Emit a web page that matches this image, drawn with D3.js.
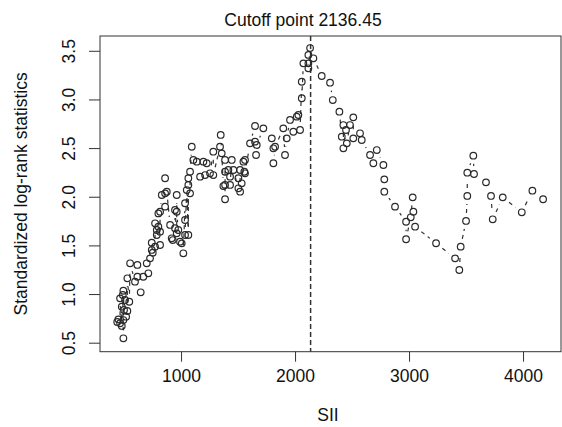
<!DOCTYPE html>
<html><head><meta charset="utf-8">
<script src="https://cdn.jsdelivr.net/npm/d3@7"></script>
<style>
body{margin:0;background:#fff}
svg{display:block}
text{font-family:"Liberation Sans",Arial,Helvetica,sans-serif;fill:#111}
</style>
</head><body>
<svg id="chart" width="562" height="427"></svg>
<script>
// ---- data ----
const sii = [494,440,465,494,480,450,518,529,500,480,465,489,494,546,509,646,529,553,617,596,617,669,713,699,728,752,772,743,816,787,816,918,991,1020,962,1064,801,772,816,860,831,860,962,1064,1079,1035,962,1035,904,947,976,1035,927,1386,1386,1503,1532,1348,1094,1649,1605,1649,1658,1283,1342,1357,1108,1138,1196,1386,1445,1561,1415,1386,1459,1518,1555,1430,1503,1283,1254,1211,1167,1079,1064,1050,860,875,1371,1430,1518,801,947,787,1006,743,1225,2132,2117,2161,2073,2117,2117,2059,2059,2029,2015,1956,2044,1985,1897,1927,1912,1796,1810,1825,1810,1722,1664,1547,1561,2234,2307,2331,2389,2511,2482,2447,2424,2410,2454,2424,2511,2570,2585,2658,2717,2687,2775,2783,2783,2877,3032,3038,3015,2974,3053,2974,3237,3404,3441,3453,3500,3511,3511,3570,3564,3675,3719,3734,3822,3989,4082,4176];
const stat = [0.545,0.713,0.70,0.733,0.672,0.74,0.767,0.826,0.836,0.87,0.956,0.99,1.034,0.921,0.939,1.018,1.162,1.316,1.299,1.127,1.178,1.178,1.213,1.316,1.367,1.425,1.487,1.528,1.504,1.607,1.641,1.573,1.538,1.419,1.624,1.607,1.692,1.727,1.846,1.898,2.018,2.035,2.018,2.121,2.035,1.933,1.846,1.761,1.71,1.676,1.658,1.607,1.555,2.121,1.974,2.087,2.138,2.635,2.514,2.727,2.549,2.566,2.429,2.463,2.514,2.446,2.378,2.36,2.36,2.378,2.378,2.378,2.275,2.257,2.275,2.275,2.257,2.206,2.19,2.223,2.241,2.223,2.206,2.257,2.19,2.069,2.19,2.052,2.11,2.121,2.052,1.829,1.864,1.658,1.521,1.453,2.344,3.528,3.457,3.423,3.371,3.371,3.32,3.182,3.012,2.84,2.823,2.789,2.686,2.668,2.703,2.6,2.429,2.6,2.498,2.514,2.344,2.703,2.532,2.36,2.241,3.241,3.172,2.994,2.874,2.816,2.737,2.686,2.737,2.617,2.549,2.498,2.6,2.652,2.583,2.429,2.48,2.344,2.326,2.179,2.052,1.898,1.994,1.846,1.789,1.743,1.692,1.563,1.522,1.367,1.247,1.487,1.751,2.008,2.247,2.234,2.422,2.148,2.008,1.768,1.994,1.84,2.062,1.974];
const xTicks = [1000, 2000, 3000, 4000];
const yTicks = [0.5, 1.0, 1.5, 2.0, 2.5, 3.0, 3.5];
const yTickLabels = ["0.5","1.0","1.5","2.0","2.5","3.0","3.5"];
const cutoff = 2136.45;
const titleText = "Cutoff point 2136.45";
const xLabelText = "SII";
const yLabelText = "Standardized log-rank statistics";

// ---- layout ----
const L = 100, R = 561, T = 36, B = 351.7;
const FS = 17.5;
const svg = d3.select("#chart");

const x = d3.scaleLinear().domain([289, 4333]).range([L, R]);
const y = d3.scaleLinear().domain([0.4075, 3.652]).range([B, T]);

const pts = sii.map((v, i) => ({sx: v, sy: stat[i]})).sort((a, b) => a.sx - b.sx);

// connecting dashed line (type="b": gaps around points)
const gap = 8;
const gLine = svg.append("g");
for (let i = 0; i < pts.length - 1; i++) {
  const x1 = x(pts[i].sx), y1 = y(pts[i].sy), x2 = x(pts[i+1].sx), y2 = y(pts[i+1].sy);
  const d = Math.hypot(x2 - x1, y2 - y1);
  if (d > 2 * gap) {
    const ux = (x2 - x1) / d, uy = (y2 - y1) / d;
    gLine.append("line")
      .attr("x1", x1 + ux * gap).attr("y1", y1 + uy * gap)
      .attr("x2", x2 - ux * gap).attr("y2", y2 - uy * gap)
      .attr("stroke", "#333").attr("stroke-width", 1.2)
      .attr("stroke-dasharray", "4,4");
  }
}

// cutoff vertical line
svg.append("line")
  .attr("x1", x(cutoff)).attr("x2", x(cutoff))
  .attr("y1", T).attr("y2", B)
  .attr("stroke", "#333").attr("stroke-width", 1.5)
  .attr("stroke-dasharray", "5,3");

// points
svg.append("g").selectAll("circle").data(pts).join("circle")
  .attr("cx", d => x(d.sx)).attr("cy", d => y(d.sy)).attr("r", 3.3)
  .attr("fill", "none").attr("stroke", "#2a2a2a").attr("stroke-width", 1.2);

// box
svg.append("rect").attr("x", L).attr("y", T).attr("width", R - L).attr("height", B - T)
  .attr("fill", "none").attr("stroke", "#333").attr("stroke-width", 1);

// x axis
const gx = svg.append("g").attr("transform", `translate(0,${B})`)
  .call(d3.axisBottom(x).tickValues(xTicks).tickSize(10).tickFormat(d3.format("d")));
gx.select(".domain").remove();
gx.selectAll(".tick line").attr("stroke", "#333");
gx.selectAll(".tick text").attr("y", 30).attr("dy", 0)
  .style("font-size", FS + "px").style("font-family", '"Liberation Sans",Arial,sans-serif').attr("fill", "#111");

// y axis
const gy = svg.append("g").attr("transform", `translate(${L},0)`)
  .call(d3.axisLeft(y).tickValues(yTicks).tickSize(11).tickFormat((d, i) => yTickLabels[i]));
gy.select(".domain").remove();
gy.selectAll(".tick line").attr("stroke", "#333");
gy.selectAll(".tick text")
  .attr("x", 0).attr("y", -25).attr("dy", 0)
  .attr("transform", "rotate(-90)")
  .attr("text-anchor", "middle")
  .style("font-size", FS + "px").style("font-family", '"Liberation Sans",Arial,sans-serif').attr("fill", "#111");

// title & labels
svg.append("text").attr("x", 303).attr("y", 26).attr("text-anchor", "middle")
  .style("font-size", FS + "px").text(titleText);
svg.append("text").attr("x", 328).attr("y", 421).attr("text-anchor", "middle")
  .style("font-size", FS + "px").text(xLabelText);
svg.append("text").attr("transform", `translate(27,${(T + B) / 2}) rotate(-90)`)
  .attr("text-anchor", "middle").style("font-size", FS + "px").text(yLabelText);
</script>
</body></html>
